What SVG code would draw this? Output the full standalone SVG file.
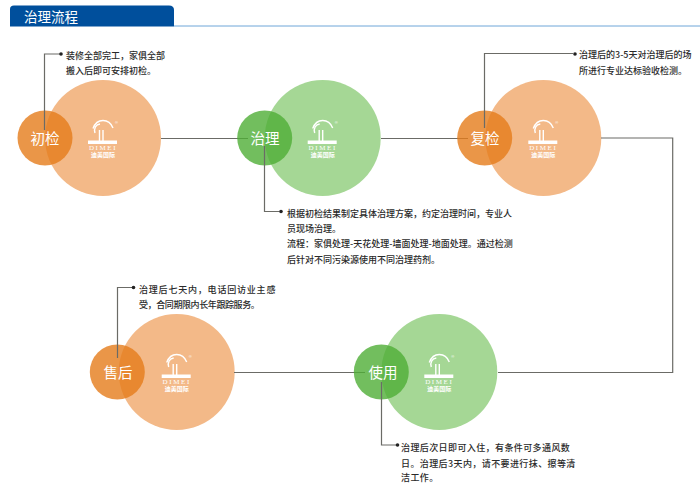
<svg xmlns="http://www.w3.org/2000/svg" width="700" height="487" viewBox="0 0 700 487">
<style>
.big-o{fill:#f3b988}.big-g{fill:#a5d795}
.sm-o{fill:#e57c1a;fill-opacity:.8}.sm-g{fill:#4fae36;fill-opacity:.8}
.lbl{font-family:"Noto Sans CJK SC","Noto Sans",sans-serif;font-size:14.5px;fill:#fff;text-anchor:middle}
.txt{font-family:"Noto Sans CJK SC","Noto Sans",sans-serif;font-size:9px;font-weight:500;fill:#2a2a2a}
.conn{fill:none;stroke:#6b6b66;stroke-width:1.2}
.dot{fill:#222}
.lg{fill:none;stroke:#fff;stroke-width:1.4}
.lt{fill:#fff;text-anchor:middle}
</style>
<defs>
<g id="logo">
<path class="lg" d="M-10-9.500C-8-15-4-17.500 0-17.500C4-17.500 8-15 10-10"/>
<path class="lg" d="M-8-5C-9.500-10-7-13.500-3-14"/>
<path class="lg" d="M-3.500 3V-8M0 3V-8"/>
<path fill="#fff" d="M-15 2.500H14V6H-15Z"/>
<text class="lt" y="12" font-family="Liberation Serif,serif" font-size="7" letter-spacing="1.600">DIMEI</text>
<text class="lt" y="19" font-family="Noto Sans CJK SC,sans-serif" font-size="6" font-weight="700">迪美国际</text>
<text class="lt" x="13.500" y="-14" font-family="Liberation Sans,sans-serif" font-size="4">®</text>
</g>
</defs>
<g id="header">
<path fill="#004f9c" d="M10 26.500V9Q10 5.500 14 5.500H169Q174 5.500 174 10V26.500Z"/>
<path fill="none" stroke="#6ea6d8" stroke-width="1" d="M174 26H700"/>
<text x="24" y="22" font-family="Noto Sans CJK SC,sans-serif" font-size="13.500" fill="#fff">治理流程</text>
</g>
<g id="bubbles-big">
<circle class="big-o" cx="103" cy="138" r="58"/>
<circle class="big-g" cx="322.700" cy="138" r="58"/>
<circle class="big-o" cx="543.300" cy="138" r="58"/>
<circle class="big-o" cx="176.700" cy="372" r="58"/>
<circle class="big-g" cx="439.300" cy="372" r="58"/>
</g>
<g id="connectors">
<path class="conn" d="M161 138.500H248M381 138.500H468"/>
<path class="conn" d="M601 138H672.700V372.500H498"/>
<path class="conn" d="M234 372.500H365"/>
</g>
<g id="node-chujian">
<circle class="sm-o" cx="45" cy="138" r="27.500"/>
<use href="#logo" x="103" y="138"/>
<text class="lbl" x="45" y="143.500">初检</text>
<text class="txt" x="66" y="59">装修全部完工，家俱全部</text>
<text class="txt" x="66" y="74">搬入后即可安排初检。</text>
</g>
<g id="node-zhili">
<circle class="sm-g" cx="264.700" cy="138" r="27.500"/>
<use href="#logo" x="322.700" y="138"/>
<text class="lbl" x="265" y="143.500">治理</text>
<text class="txt" x="287" y="217">根据初检结果制定具体治理方案，约定治理时间，专业人</text>
<text class="txt" x="287" y="232">员现场治理。</text>
<text class="txt" x="287" y="247">流程：家俱处理-天花处理-墙面处理-地面处理。通过检测</text>
<text class="txt" x="287" y="263">后针对不同污染源使用不同治理药剂。</text>
</g>
<g id="node-fujian">
<circle class="sm-o" cx="484.700" cy="138" r="27.500"/>
<use href="#logo" x="543.300" y="138"/>
<text class="lbl" x="485" y="143.500">复检</text>
<text class="txt" x="579" y="58">治理后的3-5天对治理后的场</text>
<text class="txt" x="579" y="74">所进行专业达标验收检测。</text>
</g>
<g id="node-shiyong">
<circle class="sm-g" cx="381.300" cy="372" r="27.500"/>
<use href="#logo" x="439.300" y="372"/>
<text class="lbl" x="383" y="377.500">使用</text>
<text class="txt" x="401" y="451" letter-spacing=".4">治理后次日即可入住，有条件可多通风数</text>
<text class="txt" x="401" y="467" letter-spacing=".4">日。治理后3天内，请不要进行抹、擦等清</text>
<text class="txt" x="401" y="481" letter-spacing=".4">洁工作。</text>
</g>
<g id="node-shouhou">
<circle class="sm-o" cx="117.300" cy="372" r="27.500"/>
<use href="#logo" x="176.700" y="372"/>
<text class="lbl" x="118" y="377.500">售后</text>
<text class="txt" x="139" y="293" letter-spacing=".8">治理后七天内，电话回访业主感</text>
<text class="txt" x="139" y="308" letter-spacing="-.4">受，合同期限内长年跟踪服务。</text>
</g>
<g id="leaders">
<path class="conn" d="M44.500 130V54H60"/><circle class="dot" cx="61" cy="54" r="1.800"/>
<path class="conn" d="M264.500 146V211.500H279"/><circle class="dot" cx="281" cy="211.500" r="1.800"/>
<path class="conn" d="M484.500 128V53.500H573"/><circle class="dot" cx="575" cy="54" r="1.800"/>
<path class="conn" d="M117.500 358V287.500H132"/><circle class="dot" cx="133.500" cy="287.500" r="1.800"/>
<path class="conn" d="M381.500 382V445H396"/><circle class="dot" cx="397.500" cy="445" r="1.800"/>
</g>
</svg>
